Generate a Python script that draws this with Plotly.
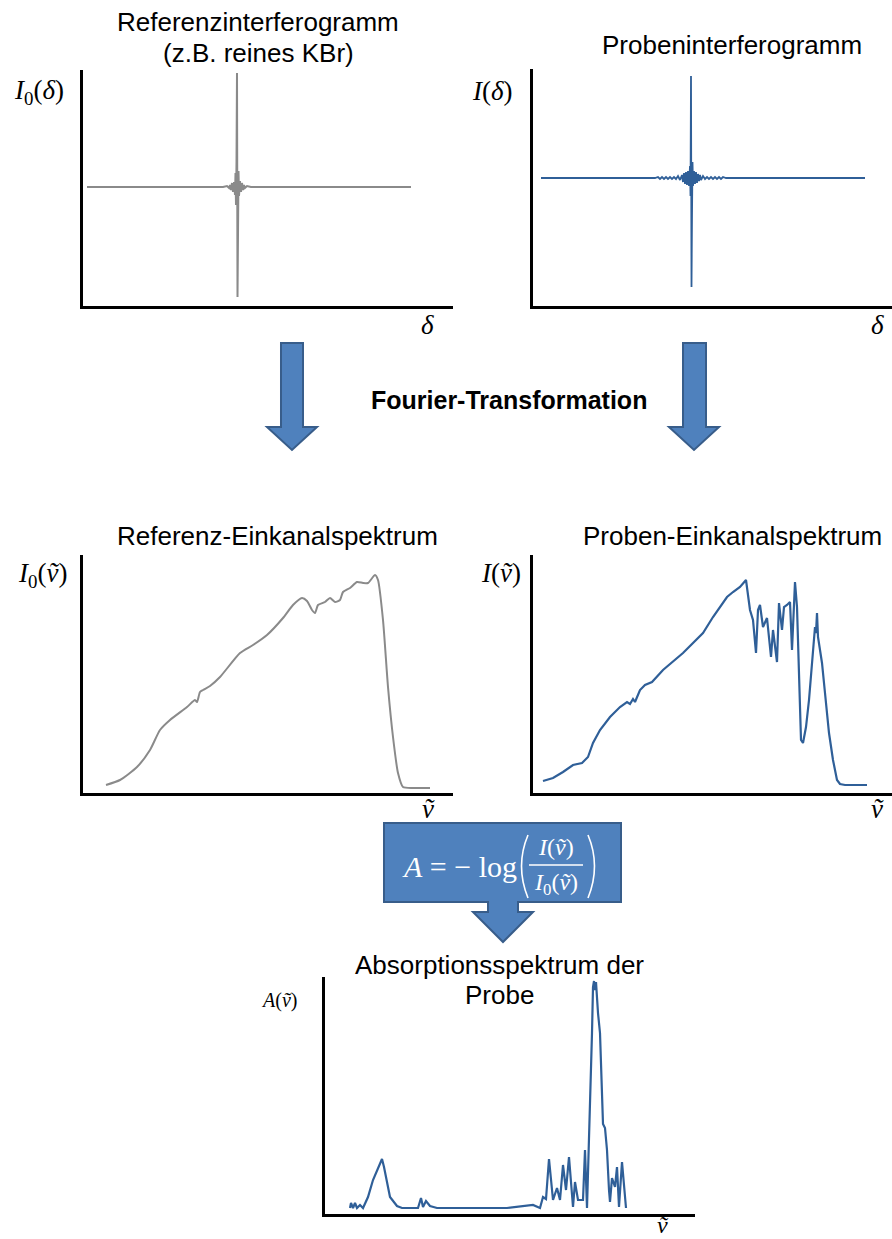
import plotly.graph_objects as go

# ---------------- data (arbitrary units) ----------------
# Reference interferogram I0(delta)
ref_delta = [4, 140, 144, 146, 147, 148, 149, 150, 151, 152, 152.5, 153, 153.5, 154, 154.5, 155, 155.5, 156, 157, 158, 159, 160, 161, 162, 164, 168, 328]
ref_I0 = [0, 0, 1, -1, 2, -3, 4, -5, 5, -8, 14, -18, 25, 114, -110, -31, 16, -9, 6, -5, 4, -3, 2, -1, 1, 0, 0]

# Sample interferogram I(delta)
sam_delta = [8, 122, 125, 127, 129, 131, 133, 135, 137, 139, 141, 143, 145, 147, 149, 150, 151, 152, 153, 154,
             155, 156, 157, 157.5, 158, 158.5, 159, 159.5, 160, 161, 162, 163, 164, 165, 166, 167, 168, 170, 172, 174,
             176, 178, 180, 182, 184, 186, 188, 190, 193, 332]
sam_I = [0, 0, 1, -1, 1, -1, 1, -1, 1, -1, 1, -1, 2, -2, 3, -4, 5, -6, 6, -7,
         7, -8, 12, -18, 102, -109, -37, 16, -8, 7, -6, 6, -5, 4, -3, 3, -2, 2, -1, 1,
         -1, 1, -1, 1, -1, 1, -1, 1, 0, 0]

# Reference single-channel spectrum I0(nu)
ref_nu = [23, 37, 54, 67, 77, 87, 104, 112, 114, 117, 120, 127, 137, 157, 170, 184, 200, 210, 219, 224,
          229, 232, 235, 242, 247, 252, 257, 260, 267, 274, 280, 285, 292, 295, 300, 305, 310, 315, 320, 330, 347]
ref_I0n = [8, 13, 26, 43, 63, 73, 86, 93, 91, 101, 103, 107, 116, 140, 148, 158, 175, 188, 195, 192,
           183, 180, 188, 191, 195, 191, 193, 201, 205, 211, 210, 210, 218, 213, 173, 106, 56, 20, 6, 5, 5]

# Sample single-channel spectrum I(nu)
sam_nu = [10, 20, 30, 40, 49, 55, 60, 67, 77, 87, 94, 97, 100, 102, 107, 112, 119, 130, 150, 170,
          180, 194, 200, 207, 213, 217, 220, 223, 225, 227, 230, 234, 238, 240, 244, 246, 249, 251, 254, 257,
          259, 262, 264, 268, 270, 273, 276, 279, 281, 282, 283, 284, 285, 287, 289, 292, 296, 300, 304, 307, 312, 334]
sam_In = [12, 15, 21, 28, 30, 36, 50, 63, 76, 86, 91, 89, 94, 91, 103, 108, 111, 123, 140, 160,
          176, 196, 201, 206, 213, 183, 173, 140, 183, 188, 166, 175, 136, 163, 131, 190, 163, 186, 188, 191,
          143, 211, 186, 53, 50, 66, 93, 126, 150, 166, 160, 180, 156, 145, 130, 100, 60, 33, 13, 9, 8, 8]

# Absorption spectrum A(nu)
abs_nu = [25, 26, 28, 30, 32, 35, 38, 43, 48, 52, 55, 57, 59, 62, 65, 72, 77, 93, 96, 98,
          101, 105, 112, 182, 202, 208, 215, 218, 221, 224, 228, 232, 235, 238, 241, 244, 248, 250, 253, 258,
          260, 262, 267, 268, 269, 270, 271, 272, 273, 275, 277, 278, 280, 282, 284, 285, 287, 290, 292, 294, 297, 301]
abs_A = [6, 11, 6, 11, 6, 9, 6, 17, 34, 44, 51, 55, 47, 31, 17, 8, 6, 6, 16, 7,
         13, 8, 6, 6, 8, 9, 6, 17, 15, 55, 14, 26, 14, 49, 24, 57, 7, 32, 14, 14,
         64, 6, 181, 227, 233, 224, 232, 210, 201, 181, 114, 90, 86, 64, 24, 12, 36, 27, 47, 7, 52, 6]

# ---------------- styling ----------------
W, H = 892, 1239
GREY = "#8a8a8a"
BLUE = "#2f5f98"
ARROW_FILL = "#4f81bd"
ARROW_LINE = "#385d8a"
SANS = "Liberation Sans, Arial, sans-serif"
SERIF = "Liberation Serif, Times New Roman, serif"


def fx(x):
    return x / W


def fy(y):
    return 1 - y / H


fig = go.Figure()

panels = [
    ((83, 453, 70, 306), [0, 370], [-119, 117]),
    ((533, 892, 69, 306), [0, 359], [-128, 109]),
    ((83, 453, 555, 793), [0, 370], [0, 238]),
    ((533, 892, 555, 793), [0, 359], [0, 238]),
    ((325, 695, 977, 1214), [0, 370], [0, 237]),
]

series = [
    (ref_delta, ref_I0, GREY, 2, "linear"),
    (sam_delta, sam_I, BLUE, 1.8, "linear"),
    (ref_nu, ref_I0n, GREY, 2, "spline"),
    (sam_nu, sam_In, BLUE, 2.2, "linear"),
    (abs_nu, abs_A, BLUE, 2.2, "linear"),
]

layout_axes = {}
for i, ((x0, x1, y0, y1), xr, yr) in enumerate(panels):
    n = "" if i == 0 else str(i + 1)
    xs, ys, col, lw, shp = series[i]
    line = dict(color=col, width=lw, shape=shp)
    if shp == "spline":
        line["smoothing"] = 0.6
    fig.add_trace(go.Scatter(x=xs, y=ys, mode="lines", xaxis="x" + n, yaxis="y" + n,
                             line=line, showlegend=False, hoverinfo="skip"))
    ax = dict(showline=True, linecolor="black", linewidth=3, showgrid=False, zeroline=False,
              showticklabels=False, ticks="", fixedrange=True)
    layout_axes["xaxis" + n] = dict(ax, domain=[fx(x0), fx(x1)], range=xr, anchor="y" + n)
    layout_axes["yaxis" + n] = dict(ax, domain=[fy(y1), fy(y0)], range=yr, anchor="x" + n)

fig.update_layout(**layout_axes)

# ---------------- texts ----------------
ann = []


def text(x, y, t, size, family=SANS, color="black"):
    ann.append(dict(x=fx(x), y=fy(y), xref="paper", yref="paper", text=t, showarrow=False,
                    xanchor="center", yanchor="middle", font=dict(size=size, family=family, color=color)))


text(258, 22, "Referenzinterferogramm", 26)
text(258, 53, "(z.B. reines KBr)", 26)
text(732, 45, "Probeninterferogramm", 26)
text(509, 400, "<b>Fourier-Transformation</b>", 25)
text(277, 536, "Referenz-Einkanalspektrum", 26)
text(732, 536, "Proben-Einkanalspektrum", 26)
text(500, 965, "Absorptionsspektrum der", 26)
text(499, 995, "Probe", 26)

NU = "<i>ṽ</i>"
text(39, 92, "<i>I</i><sub>0</sub>(<i>δ</i>)", 27, SERIF)
text(427, 325, "<i>δ</i>", 27, SERIF)
text(492, 91, "<i>I</i>(<i>δ</i>)", 27, SERIF)
text(877, 325, "<i>δ</i>", 27, SERIF)
text(42, 575, "<i>I</i><sub>0</sub>(" + NU + ")", 27, SERIF)
text(428, 809, NU, 27, SERIF)
text(501, 573, "<i>I</i>(" + NU + ")", 27, SERIF)
text(877, 809, NU, 27, SERIF)
text(279, 1000, "<i>A</i>(" + NU + ")", 20, SERIF)
text(663, 1225, NU, 24, SERIF)

# formula inside the callout
text(459, 866, "<i>A</i> = − log", 30, SERIF, "white")
text(556, 847, "<i>I</i>(" + NU + ")", 24, SERIF, "white")
text(556, 884, "<i>I</i><sub>0</sub>(" + NU + ")", 24, SERIF, "white")

fig.update_layout(annotations=ann)

# ---------------- arrows / callout ----------------


def path(points, closed=True):
    s = "M " + " L ".join(f"{fx(x):.5f},{fy(y):.5f}" for x, y in points)
    return s + " Z" if closed else s


shapes = []
for pts in (
    [(281, 343), (303, 343), (303, 427), (317, 427), (292, 450), (267, 427), (281, 427)],
    [(683, 343), (706, 343), (706, 427), (719, 427), (694, 450), (669, 427), (683, 427)],
    [(384, 823), (621, 823), (621, 902), (518, 902), (518, 912), (533, 912), (503, 942),
     (473, 912), (488, 912), (488, 902), (384, 902)],
):
    shapes.append(dict(type="path", path=path(pts), xref="paper", yref="paper",
                       fillcolor=ARROW_FILL, line=dict(color=ARROW_LINE, width=2), layer="below"))

# fraction bar and large parentheses
shapes.append(dict(type="line", xref="paper", yref="paper", x0=fx(529), x1=fx(583), y0=fy(865), y1=fy(865),
                   line=dict(color="white", width=1.5)))
for (xa, xb) in ((528, 515), (588, 601)):
    p = (f"M {fx(xa):.5f},{fy(835):.5f} Q {fx(xb):.5f},{fy(866):.5f} {fx(xa):.5f},{fy(898):.5f}")
    shapes.append(dict(type="path", path=p, xref="paper", yref="paper",
                       line=dict(color="white", width=1.6)))

fig.update_layout(shapes=shapes, width=W, height=H, margin=dict(l=0, r=0, t=0, b=0),
                  paper_bgcolor="white", plot_bgcolor="rgba(0,0,0,0)", showlegend=False)

fig.write_html("out.html", config={"displayModeBar": False},
               post_script="document.body.style.margin='0';document.body.style.overflow='hidden';")
